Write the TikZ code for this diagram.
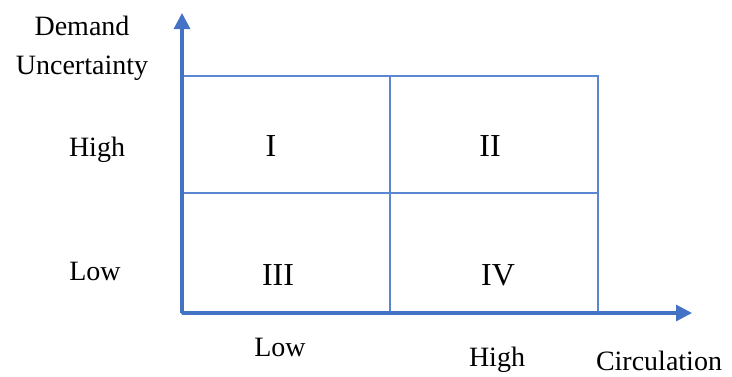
\documentclass[tikz,border=0pt]{standalone}
\usepackage{fontspec}
\setmainfont{Liberation Serif}
\usepackage{tikz}
\usetikzlibrary{arrows.meta}
\usepackage{xcolor}
\definecolor{axisblue}{HTML}{4472C4}
\definecolor{gridblue}{HTML}{5A86D2}

\begin{document}
\begin{tikzpicture}[
  x=0.75pt, y=-0.75pt,
  every node/.style={inner sep=0pt, font=\fontsize{21}{25}\selectfont, align=center},
  quad/.style={font=\fontsize{24}{28}\selectfont},
  axis/.style={draw=axisblue, line width=2.3pt, -{Triangle[length=12pt,width=12pt]}},
  gridline/.style={draw=gridblue, line width=1.1pt}
]
\useasboundingbox (0,0) rectangle (732,376);

% corners
\coordinate (origin) at (182,313);
\coordinate (ytip) at (182,13);
\coordinate (xtip) at (692,313);
\coordinate (topright) at (598,76);
\coordinate (midtop) at (390,76);
\coordinate (midleft) at (182,193);

% grid
\draw[gridline] (origin) rectangle (topright);
\draw[gridline] (midtop) -- (midtop |- origin);
\draw[gridline] (midleft) -- (midleft -| topright);

% axes
\draw[axis] (origin) -- (ytip);
\draw[axis] (origin) -- (xtip);

% quadrants
\node[quad] (q1) at (271,146) {I};
\node[quad] (q2) at (490,146) {II};
\node[quad] (q3) at (278,275) {III};
\node[quad] (q4) at (498,275) {IV};

% axis labels
\node (ylabel) at (82,48) {Demand\\[4pt]Uncertainty};
\node (yhigh) at (97,150) {High};
\node (ylow) at (95,271) {Low};
\node (xlow) at (280,347) {Low};
\node (xhigh) at (497,360) {High};
\node (xlabel) at (659,361) {Circulation};

\end{tikzpicture}
\end{document}
